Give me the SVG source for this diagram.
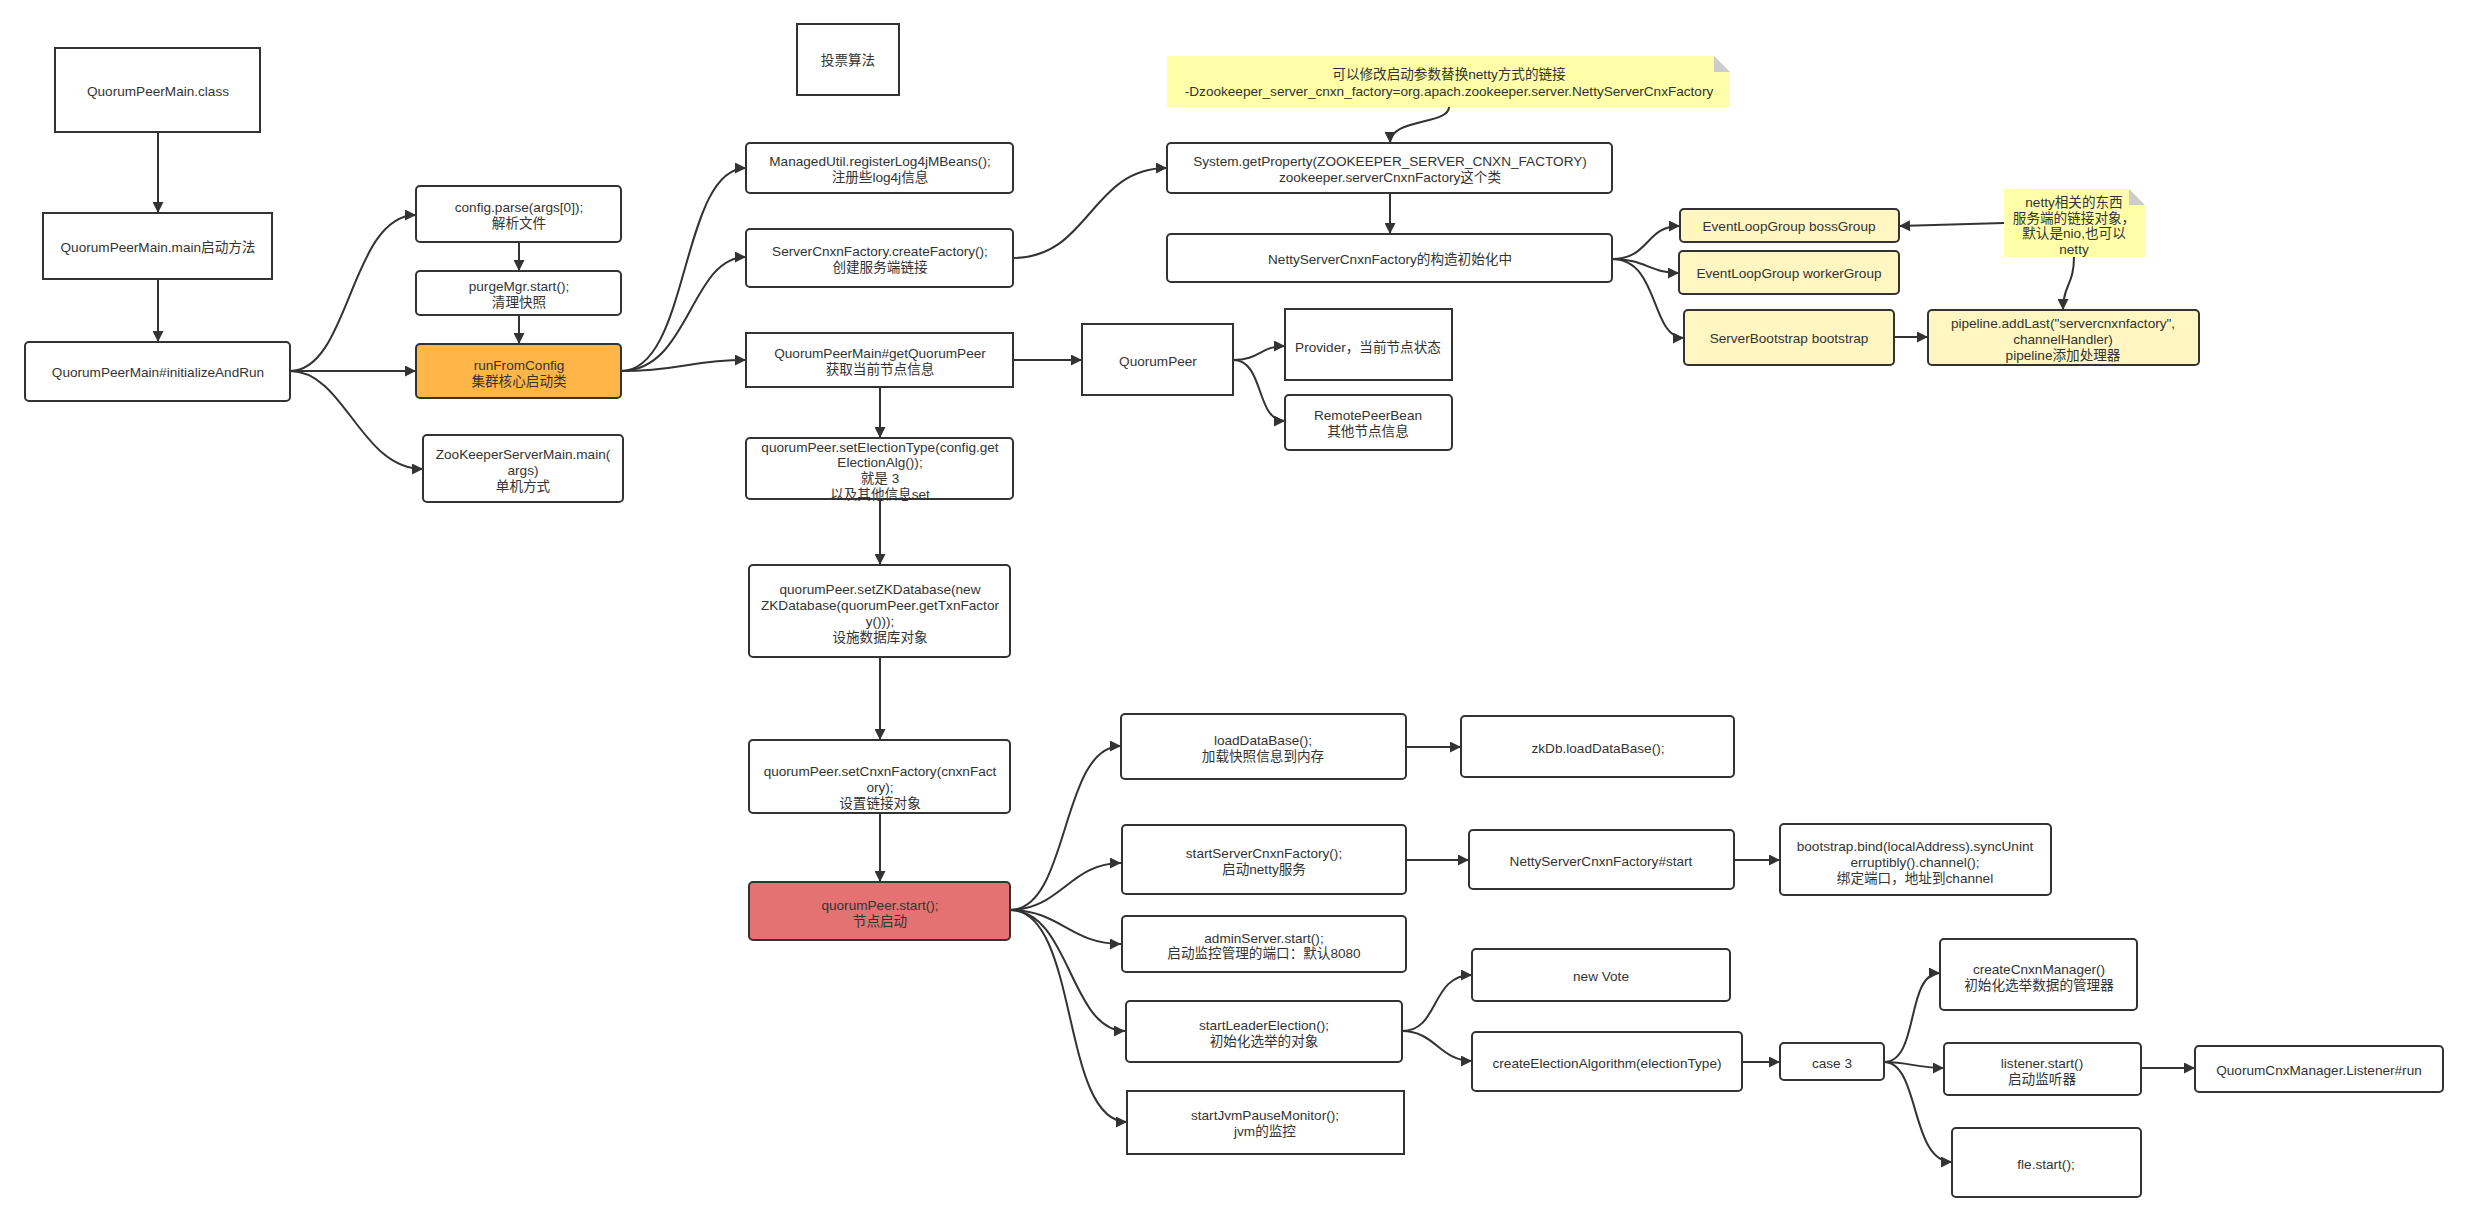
<svg xmlns="http://www.w3.org/2000/svg" width="2466" height="1222" viewBox="0 0 2466 1222">
<defs>
<style>
rect.b{fill:#fff;stroke:#333;stroke-width:2}
rect.y{fill:#fff6c2;stroke:#333;stroke-width:2}
rect.o{fill:#ffb548;stroke:#333;stroke-width:2}
rect.r{fill:#e47272;stroke:#333;stroke-width:2}
text{font-family:"Liberation Sans","Noto Sans CJK SC",sans-serif;font-size:13.6px;fill:#333;text-anchor:middle;dominant-baseline:central}
#connectors path{fill:none;stroke:#333;stroke-width:2;marker-end:url(#arr)}
.note{fill:#ffffaa}
.fold{fill:#cccccc}
</style>
<marker id="arr" viewBox="0 0 10 10" refX="10" refY="5" markerWidth="12" markerHeight="11" markerUnits="userSpaceOnUse" orient="auto"><path d="M0,0 L10,5 L0,10 z" fill="#333"/></marker>
</defs>
<rect width="2466" height="1222" fill="#fff"/>
<g id="connectors">
<path d="M158,132 V213"/>
<path d="M158,279 V342"/>
<path d="M290,371 C350,371 350,215 416,215"/>
<path d="M290,371 H416"/>
<path d="M290,371 C345,371 360,469 423,469"/>
<path d="M519,242 V271"/>
<path d="M519,315 V344"/>
<path d="M621,371 C690,371 680,168 746,168"/>
<path d="M621,371 C690,371 690,257 746,257"/>
<path d="M621,371 C680,371 690,360 746,360"/>
<path d="M1013,258 C1090,258 1090,168 1167,168"/>
<path d="M1013,360 H1082"/>
<path d="M1233,360 C1260,360 1260,346 1285,346"/>
<path d="M1233,360 C1265,360 1255,421 1285,421"/>
<path d="M1449,107 C1449,125 1390,118 1390,143"/>
<path d="M1390,193 V234"/>
<path d="M1612,259 C1650,259 1645,226 1680,226"/>
<path d="M1612,259 C1645,259 1650,273 1679,273"/>
<path d="M1612,259 C1660,259 1650,338 1684,338"/>
<path d="M1894,337 H1928"/>
<path d="M2004,223 L1899,226"/>
<path d="M2074,257 C2074,285 2063,285 2063,310"/>
<path d="M880,387 V438"/>
<path d="M880,499 V565"/>
<path d="M880,657 V740"/>
<path d="M880,813 V882"/>
<path d="M1010,910 C1070,910 1060,746 1121,746"/>
<path d="M1010,910 C1060,910 1070,863 1121,863"/>
<path d="M1010,910 C1060,910 1070,944 1121,944"/>
<path d="M1010,910 C1070,910 1070,1031 1125,1031"/>
<path d="M1010,910 C1080,910 1060,1122 1127,1122"/>
<path d="M1406,747 H1461"/>
<path d="M1406,860 H1469"/>
<path d="M1734,860 H1780"/>
<path d="M1402,1031 C1440,1031 1430,975 1472,975"/>
<path d="M1402,1031 C1435,1031 1440,1061 1472,1061"/>
<path d="M1742,1062 H1780"/>
<path d="M1884,1062 C1920,1062 1905,973 1940,973"/>
<path d="M1884,1062 C1910,1062 1915,1068 1944,1068"/>
<path d="M1884,1062 C1920,1062 1910,1162 1952,1162"/>
<path d="M2141,1068 H2195"/>
</g>
<g id="n-class"><rect class="b" x="55" y="48" width="205" height="84"/><text x="158" y="91">QuorumPeerMain.class</text></g>
<g id="n-main"><rect class="b" x="43" y="213" width="229" height="66"/><text x="158" y="247">QuorumPeerMain.main启动方法</text></g>
<g id="n-init"><rect class="b" x="25" y="342" width="265" height="59" rx="4"/><text x="158" y="372">QuorumPeerMain#initializeAndRun</text></g>
<g id="n-config"><rect class="b" x="416" y="186" width="205" height="56" rx="4"/><text x="519" y="207">config.parse(args[0]);</text><text x="519" y="223">解析文件</text></g>
<g id="n-purge"><rect class="b" x="416" y="271" width="205" height="44" rx="4"/><text x="519" y="286">purgeMgr.start();</text><text x="519" y="302">清理快照</text></g>
<g id="n-run"><rect class="o" x="416" y="344" width="205" height="54" rx="4"/><text x="519" y="365">runFromConfig</text><text x="519" y="381">集群核心启动类</text></g>
<g id="n-zkmain"><rect class="b" x="423" y="435" width="200" height="67" rx="4"/><text x="523" y="454">ZooKeeperServerMain.main(</text><text x="523" y="470">args)</text><text x="523" y="486">单机方式</text></g>
<g id="n-vote-algo"><rect class="b" x="797" y="24" width="102" height="71"/><text x="848" y="60">投票算法</text></g>
<g id="n-managed"><rect class="b" x="746" y="143" width="267" height="50" rx="4"/><text x="880" y="161">ManagedUtil.registerLog4jMBeans();</text><text x="880" y="177">注册些log4j信息</text></g>
<g id="n-scf"><rect class="b" x="746" y="229" width="267" height="58" rx="4"/><text x="880" y="251">ServerCnxnFactory.createFactory();</text><text x="880" y="267">创建服务端链接</text></g>
<g id="n-getqp"><rect class="b" x="746" y="333" width="267" height="54"/><text x="880" y="353">QuorumPeerMain#getQuorumPeer</text><text x="880" y="369">获取当前节点信息</text></g>
<g id="n-qp"><rect class="b" x="1082" y="324" width="151" height="71"/><text x="1158" y="361">QuorumPeer</text></g>
<g id="n-provider"><rect class="b" x="1285" y="309" width="167" height="71"/><text x="1368" y="347">Provider，当前节点状态</text></g>
<g id="n-remote"><rect class="b" x="1285" y="395" width="167" height="55" rx="4"/><text x="1368" y="415">RemotePeerBean</text><text x="1368" y="431">其他节点信息</text></g>
<g id="n-note1"><path class="note" d="M1167,56 H1714 L1730,72 V107 H1167 Z"/><path class="fold" d="M1714,56 V72 H1730 Z"/><text x="1449" y="74">可以修改启动参数替换netty方式的链接</text><text x="1449" y="91">-Dzookeeper_server_cnxn_factory=org.apach.zookeeper.server.NettyServerCnxFactory</text></g>
<g id="n-sysprop"><rect class="b" x="1167" y="143" width="445" height="50" rx="4"/><text x="1390" y="161">System.getProperty(ZOOKEEPER_SERVER_CNXN_FACTORY)</text><text x="1390" y="177">zookeeper.serverCnxnFactory这个类</text></g>
<g id="n-nettyctor"><rect class="b" x="1167" y="234" width="445" height="48" rx="4"/><text x="1390" y="259">NettyServerCnxnFactory的构造初始化中</text></g>
<g id="n-boss"><rect class="y" x="1680" y="209" width="219" height="33" rx="4"/><text x="1789" y="226">EventLoopGroup bossGroup</text></g>
<g id="n-worker"><rect class="y" x="1679" y="251" width="220" height="43" rx="4"/><text x="1789" y="273">EventLoopGroup workerGroup</text></g>
<g id="n-bootstrap"><rect class="y" x="1684" y="310" width="210" height="55" rx="4"/><text x="1789" y="338">ServerBootstrap bootstrap</text></g>
<g id="n-note2"><path class="note" d="M2004,189 H2129 L2145,205 V257 H2004 Z"/><path class="fold" d="M2129,189 V205 H2145 Z"/><text x="2074" y="202">netty相关的东西</text><text x="2074" y="218">服务端的链接对象，</text><text x="2074" y="233">默认是nio,也可以</text><text x="2074" y="249">netty</text></g>
<g id="n-pipeline"><rect class="y" x="1928" y="310" width="271" height="55" rx="4"/><text x="2063" y="323">pipeline.addLast("servercnxnfactory",</text><text x="2063" y="339">channelHandler)</text><text x="2063" y="355">pipeline添加处理器</text></g>
<g id="n-setelection"><rect class="b" x="746" y="438" width="267" height="61" rx="4"/><text x="880" y="447">quorumPeer.setElectionType(config.get</text><text x="880" y="462">ElectionAlg());</text><text x="880" y="478">就是 3</text><text x="880" y="494">以及其他信息set</text></g>
<g id="n-setzk"><rect class="b" x="749" y="565" width="261" height="92" rx="4"/><text x="880" y="589">quorumPeer.setZKDatabase(new</text><text x="880" y="605">ZKDatabase(quorumPeer.getTxnFactor</text><text x="880" y="621">y()));</text><text x="880" y="637">设施数据库对象</text></g>
<g id="n-setcnxn"><rect class="b" x="749" y="740" width="261" height="73" rx="4"/><text x="880" y="771">quorumPeer.setCnxnFactory(cnxnFact</text><text x="880" y="787">ory);</text><text x="880" y="803">设置链接对象</text></g>
<g id="n-start"><rect class="r" x="749" y="882" width="261" height="58" rx="4"/><text x="880" y="905">quorumPeer.start();</text><text x="880" y="921">节点启动</text></g>
<g id="n-loaddb"><rect class="b" x="1121" y="714" width="285" height="65" rx="4"/><text x="1263" y="740">loadDataBase();</text><text x="1263" y="756">加载快照信息到内存</text></g>
<g id="n-zkdb"><rect class="b" x="1461" y="716" width="273" height="61" rx="4"/><text x="1598" y="748">zkDb.loadDataBase();</text></g>
<g id="n-startscf"><rect class="b" x="1122" y="825" width="284" height="69" rx="4"/><text x="1264" y="853">startServerCnxnFactory();</text><text x="1264" y="869">启动netty服务</text></g>
<g id="n-nettystart"><rect class="b" x="1469" y="830" width="265" height="59" rx="4"/><text x="1601" y="861">NettyServerCnxnFactory#start</text></g>
<g id="n-bind"><rect class="b" x="1780" y="824" width="271" height="71" rx="4"/><text x="1915" y="846">bootstrap.bind(localAddress).syncUnint</text><text x="1915" y="862">erruptibly().channel();</text><text x="1915" y="878">绑定端口，地址到channel</text></g>
<g id="n-admin"><rect class="b" x="1122" y="916" width="284" height="56" rx="4"/><text x="1264" y="938">adminServer.start();</text><text x="1264" y="953">启动监控管理的端口：默认8080</text></g>
<g id="n-leader"><rect class="b" x="1126" y="1001" width="276" height="61" rx="4"/><text x="1264" y="1025">startLeaderElection();</text><text x="1264" y="1041">初始化选举的对象</text></g>
<g id="n-jvm"><rect class="b" x="1127" y="1091" width="277" height="63"/><text x="1265" y="1115">startJvmPauseMonitor();</text><text x="1265" y="1131">jvm的监控</text></g>
<g id="n-newvote"><rect class="b" x="1472" y="949" width="258" height="52" rx="4"/><text x="1601" y="976">new Vote</text></g>
<g id="n-createalg"><rect class="b" x="1472" y="1032" width="270" height="59" rx="4"/><text x="1607" y="1063">createElectionAlgorithm(electionType)</text></g>
<g id="n-case3"><rect class="b" x="1780" y="1043" width="104" height="37" rx="4"/><text x="1832" y="1063">case 3</text></g>
<g id="n-cnxnmgr"><rect class="b" x="1940" y="939" width="197" height="71" rx="4"/><text x="2039" y="969">createCnxnManager()</text><text x="2039" y="985">初始化选举数据的管理器</text></g>
<g id="n-listener"><rect class="b" x="1944" y="1043" width="197" height="52" rx="4"/><text x="2042" y="1063">listener.start()</text><text x="2042" y="1079">启动监听器</text></g>
<g id="n-fle"><rect class="b" x="1952" y="1128" width="189" height="69" rx="4"/><text x="2046" y="1164">fle.start();</text></g>
<g id="n-listenerrun"><rect class="b" x="2195" y="1046" width="248" height="46" rx="4"/><text x="2319" y="1070">QuorumCnxManager.Listener#run</text></g>
</svg>
